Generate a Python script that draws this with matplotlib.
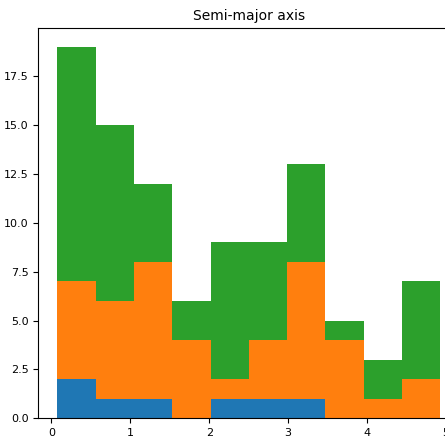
import numpy as np
import matplotlib
matplotlib.use("Agg")
import matplotlib.pyplot as plt

bin_edges = np.linspace(0.076, 4.93, 11)
counts_blue = [2, 1, 1, 0, 1, 1, 1, 0, 0, 0]
counts_orange = [5, 5, 7, 4, 1, 3, 7, 4, 1, 2]
counts_green = [12, 9, 4, 2, 7, 5, 5, 1, 2, 5]
title = "Semi-major axis"

W, H = 445, 442
fig = plt.figure(figsize=(W / 100, H / 100), dpi=100)
left, right, top, bottom = 38.3, 459.5, 28.3, 418.3
ax = fig.add_axes([left / W, 1 - bottom / H, (right - left) / W, (bottom - top) / H])

centers = (bin_edges[:-1] + bin_edges[1:]) / 2
ax.hist([centers, centers, centers], bins=bin_edges,
        weights=[counts_blue, counts_orange, counts_green],
        stacked=True, color=["#1f77b4", "#ff7f0e", "#2ca02c"])
ax.set_title(title, fontsize=10)
ax.tick_params(labelsize=8)
ax.set_yticks([0, 2.5, 5, 7.5, 10, 12.5, 15, 17.5])
fig.savefig("out.png", dpi=100)
